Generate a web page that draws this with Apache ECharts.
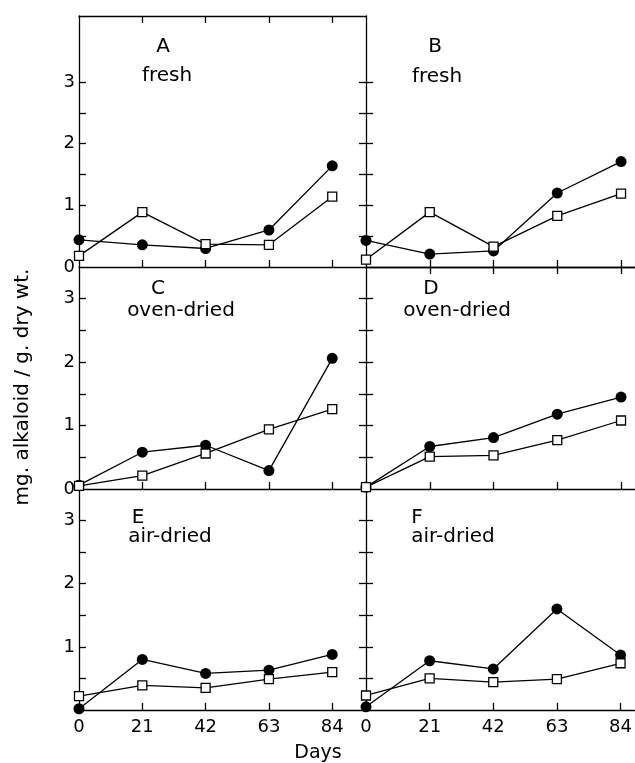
<!DOCTYPE html>
<html><head><meta charset="utf-8">
<script src="https://cdn.jsdelivr.net/npm/echarts@6/dist/echarts.min.js"></script>
<style>html,body{margin:0;padding:0;background:#fff}#c{width:635px;height:763px}</style>
</head><body><div id="c"></div>
<script>
// ---- data ----
const days = [0, 21, 42, 63, 84];
const xTickDays = [21, 42, 63, 84];
const xLabelDays = [0, 21, 42, 63, 84];
const yTickVals = [0.5, 1, 1.5, 2, 2.5, 3];
const yLabelVals = [0, 1, 2, 3];
const yLabelValsBottom = [1, 2, 3];
const panelLetters = ['A', 'B', 'C', 'D', 'E', 'F'];
const panelTreatments = ['fresh', 'fresh', 'oven-dried', 'oven-dried', 'air-dried', 'air-dried'];
const filledA = [0.44, 0.36, 0.30, 0.60, 1.64];
const openA   = [0.18, 0.89, 0.37, 0.36, 1.14];
const filledB = [0.43, 0.21, 0.26, 1.20, 1.71];
const openB   = [0.12, 0.89, 0.33, 0.83, 1.19];
const filledC = [0.06, 0.58, 0.69, 0.29, 2.06];
const openC   = [0.05, 0.21, 0.56, 0.94, 1.26];
const filledD = [0.03, 0.67, 0.81, 1.18, 1.45];
const openD   = [0.03, 0.51, 0.53, 0.77, 1.08];
const filledE = [0.02, 0.80, 0.58, 0.63, 0.88];
const openE   = [0.22, 0.39, 0.35, 0.49, 0.60];
const filledF = [0.05, 0.78, 0.65, 1.60, 0.87];
const openF   = [0.23, 0.50, 0.44, 0.49, 0.74];
const yAxisTitle = 'mg. alkaloid / g. dry wt.';
const xAxisTitle = 'Days';

// ---- layout ----
const FONT = 'DejaVu Sans';
const rows = [{top: 16, height: 251, max: 4.07}, {top: 267, height: 222, max: 3.5}, {top: 489, height: 221, max: 3.5}];
const cols = [{left: 79, width: 287, max: 95.2}, {left: 366, width: 269, max: 88.6}];
const letterPos = [[163, 47], [435, 47], [158, 289], [431, 289], [138, 518], [417, 518]];
const treatPos = [[167, 76], [437, 77], [181, 311], [457, 311], [170, 537], [453, 537]];
const filledSets = [filledA, filledB, filledC, filledD, filledE, filledF];
const openSets = [openA, openB, openC, openD, openE, openF];

const BLACK = '#000';
const LW = 1.3;
const grid = [], xAxis = [], yAxis = [], series = [];
for (let i = 0; i < 6; i++) {
  const r = Math.floor(i / 2), c = i % 2;
  grid.push({left: cols[c].left, top: rows[r].top, width: cols[c].width, height: rows[r].height, containLabel: false});
  const xi = xAxis.length;
  xAxis.push({
    gridIndex: i, type: 'value', min: 0, max: cols[c].max, interval: 21, position: 'bottom',
    axisLine: {show: true, lineStyle: {color: BLACK, width: LW}},
    axisTick: {show: true, inside: true, length: 7, customValues: xTickDays, lineStyle: {color: BLACK, width: LW}},
    axisLabel: {show: r === 2, customValues: xLabelDays, color: BLACK, fontFamily: FONT, fontSize: 18, margin: 8},
    splitLine: {show: false}
  });
  if (r === 0) {
    xAxis.push({
      gridIndex: i, type: 'value', min: 0, max: cols[c].max, interval: 21, position: 'top',
      axisLine: {show: true, lineStyle: {color: BLACK, width: LW}},
      axisTick: {show: true, inside: true, length: 7, customValues: xTickDays, lineStyle: {color: BLACK, width: LW}},
      axisLabel: {show: false}, splitLine: {show: false}
    });
  }
  const yi = yAxis.length;
  yAxis.push({
    gridIndex: i, type: 'value', min: 0, max: rows[r].max, interval: 0.5, position: 'left',
    axisLine: {show: true, onZero: false, lineStyle: {color: BLACK, width: LW}},
    axisTick: {show: true, inside: true, length: 7, customValues: yTickVals, lineStyle: {color: BLACK, width: LW}},
    axisLabel: {show: c === 0, customValues: r === 2 ? yLabelValsBottom : yLabelVals, color: BLACK, fontFamily: FONT, fontSize: 18, margin: 4},
    splitLine: {show: false}
  });
  if (c === 1) {
    yAxis.push({
      gridIndex: i, type: 'value', min: 0, max: rows[r].max, interval: 0.5, position: 'right',
      axisLine: {show: false},
      axisTick: {show: true, inside: true, length: 7, customValues: yTickVals, lineStyle: {color: BLACK, width: LW}},
      axisLabel: {show: false}, splitLine: {show: false}
    });
  }
  series.push({
    type: 'line', xAxisIndex: xi, yAxisIndex: yi, clip: false, z: 2,
    data: days.map((d, k) => [d, filledSets[i][k]]),
    symbol: 'circle', symbolSize: 11, showAllSymbol: true,
    lineStyle: {color: BLACK, width: LW}, itemStyle: {color: BLACK}
  });
  series.push({
    type: 'line', xAxisIndex: xi, yAxisIndex: yi, clip: false, z: 3,
    data: days.map((d, k) => [d, openSets[i][k]]),
    symbol: 'rect', symbolSize: 9, showAllSymbol: true,
    lineStyle: {color: BLACK, width: LW}, itemStyle: {color: '#fff', borderColor: BLACK, borderWidth: LW}
  });
}

const graphic = [];
for (let i = 0; i < 6; i++) {
  graphic.push({type: 'text', x: letterPos[i][0], y: letterPos[i][1],
    style: {text: panelLetters[i], fill: BLACK, font: '20px "' + FONT + '"', textAlign: 'center', textVerticalAlign: 'middle'}});
  graphic.push({type: 'text', x: treatPos[i][0], y: treatPos[i][1],
    style: {text: panelTreatments[i], fill: BLACK, font: '20px "' + FONT + '"', textAlign: 'center', textVerticalAlign: 'middle'}});
}
graphic.push({type: 'text', x: 23, y: 387, rotation: Math.PI / 2,
  style: {text: yAxisTitle, fill: BLACK, font: '20px "' + FONT + '"', textAlign: 'center', textVerticalAlign: 'middle'}});
graphic.push({type: 'text', x: 318, y: 753,
  style: {text: xAxisTitle, fill: BLACK, font: '19px "' + FONT + '"', textAlign: 'center', textVerticalAlign: 'middle'}});

const chart = echarts.init(document.getElementById('c'), null, {renderer: 'canvas'});
chart.setOption({animation: false, backgroundColor: '#fff', grid, xAxis, yAxis, series, graphic});
</script>
</body></html>
